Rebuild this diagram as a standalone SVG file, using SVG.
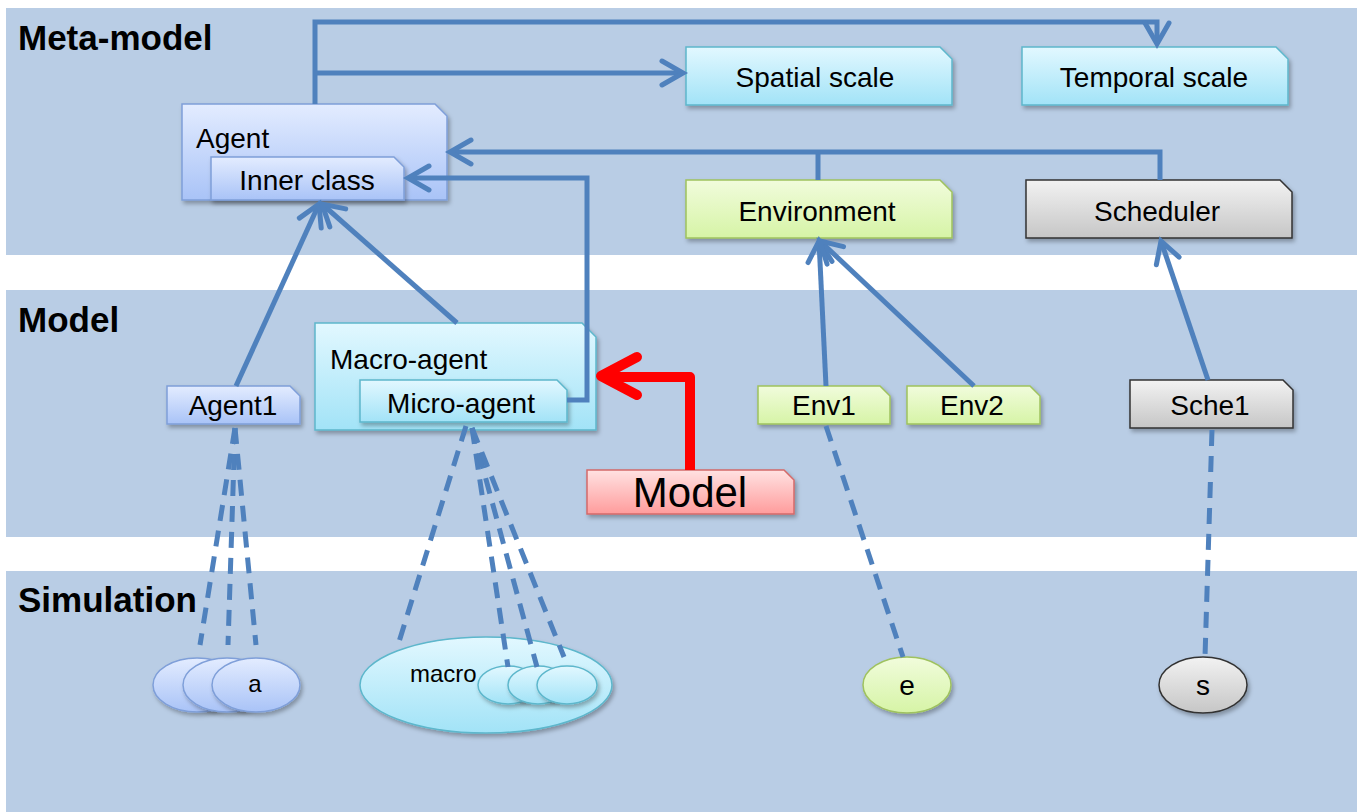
<svg xmlns="http://www.w3.org/2000/svg" width="1357" height="812" viewBox="0 0 1357 812">
<defs>
<linearGradient id="gBlue" x1="0" y1="0" x2="0" y2="1"><stop offset="0" stop-color="#e3ecff"/><stop offset="1" stop-color="#a9c3f7"/></linearGradient>
<linearGradient id="gCyan" x1="0" y1="0" x2="0" y2="1"><stop offset="0" stop-color="#e2f8ff"/><stop offset="1" stop-color="#a2e3f7"/></linearGradient>
<linearGradient id="gGreen" x1="0" y1="0" x2="0" y2="1"><stop offset="0" stop-color="#f1fcdc"/><stop offset="1" stop-color="#d6f4a6"/></linearGradient>
<linearGradient id="gGray" x1="0" y1="0" x2="0" y2="1"><stop offset="0" stop-color="#f2f2f2"/><stop offset="1" stop-color="#c6c6c6"/></linearGradient>
<linearGradient id="gRed" x1="0" y1="0" x2="0" y2="1"><stop offset="0" stop-color="#ffe2e2"/><stop offset="1" stop-color="#ff9c9c"/></linearGradient>
<filter id="sh" x="-10%" y="-10%" width="130%" height="140%"><feDropShadow dx="2" dy="3" stdDeviation="2" flood-color="#000" flood-opacity="0.3"/></filter>
<marker id="arr" markerUnits="userSpaceOnUse" viewBox="-4 -4 32 32" markerWidth="32" markerHeight="32" refX="22" refY="12" orient="auto">
<path d="M1,0 L22,12 L1,24" fill="none" stroke="#4f81bd" stroke-width="5" stroke-linecap="round"/>
</marker>
</defs>
<style>
.band{fill:#b9cde5}
.title{font-family:"Liberation Sans",Arial,sans-serif;font-weight:bold;font-size:35px;fill:#000}
.lbl{font-family:"Liberation Sans",Arial,sans-serif;font-size:28px;fill:#000;text-anchor:middle}
.lbs{font-family:"Liberation Sans",Arial,sans-serif;font-size:28px;fill:#000}
.sm{font-family:"Liberation Sans",Arial,sans-serif;font-size:24px;fill:#000}
.blue{fill:url(#gBlue);stroke:#7f9fd9;stroke-width:1.5;filter:url(#sh)}
.cyan{fill:url(#gCyan);stroke:#5db7cc;stroke-width:1.5;filter:url(#sh)}
.green{fill:url(#gGreen);stroke:#9fc25e;stroke-width:1.5;filter:url(#sh)}
.gray{fill:url(#gGray);stroke:#333;stroke-width:1.5;filter:url(#sh)}
.red{fill:url(#gRed);stroke:#d46a6a;stroke-width:1.5;filter:url(#sh)}
.conn{fill:none;stroke:#4f81bd;stroke-width:5;stroke-linejoin:miter}
.dash{fill:none;stroke:#4f81bd;stroke-width:5;stroke-dasharray:16 10}
</style>

<g id="bands">
<rect class="band" x="6" y="8" width="1351" height="247"/>
<rect class="band" x="6" y="290" width="1351" height="247"/>
<rect class="band" x="6" y="571" width="1351" height="241"/>
<text class="title" x="18" y="50">Meta-model</text>
<text class="title" x="18" y="332">Model</text>
<text class="title" x="18" y="612">Simulation</text>
</g>

<g id="agent">
<path class="blue" d="M182,104 H435 L447,116 V200 H182 Z"/>
<text class="lbs" x="196" y="148">Agent</text>
</g>
<g id="inner-class">
<path class="blue" d="M211,157 H394 L404,167 V200 H211 Z"/>
<text class="lbl" x="307" y="190">Inner class</text>
</g>
<g id="spatial-scale">
<path class="cyan" d="M686,47 H940 L952,59 V105 H686 Z"/>
<text class="lbl" x="815" y="87">Spatial scale</text>
</g>
<g id="temporal-scale">
<path class="cyan" d="M1022,47 H1276 L1288,59 V105 H1022 Z"/>
<text class="lbl" x="1154" y="87">Temporal scale</text>
</g>
<g id="environment">
<path class="green" d="M686,180 H940 L952,192 V238 H686 Z"/>
<text class="lbl" x="817" y="221">Environment</text>
</g>
<g id="scheduler">
<path class="gray" d="M1026,180 H1280 L1292,192 V238 H1026 Z"/>
<text class="lbl" x="1157" y="221">Scheduler</text>
</g>
<g id="macro-agent">
<path class="cyan" d="M315,323 H582 L596,337 V430 H315 Z"/>
<text class="lbs" x="330" y="369">Macro-agent</text>
</g>
<g id="micro-agent">
<path class="cyan" d="M360,380 H557 L567,390 V422 H360 Z"/>
<text class="lbl" x="461" y="413">Micro-agent</text>
</g>
<g id="agent1">
<path class="blue" d="M167,386 H290 L300,396 V424 H167 Z"/>
<text class="lbl" x="233" y="415">Agent1</text>
</g>
<g id="env1">
<path class="green" d="M758,386 H880 L890,396 V424 H758 Z"/>
<text class="lbl" x="824" y="415">Env1</text>
</g>
<g id="env2">
<path class="green" d="M907,386 H1030 L1040,396 V424 H907 Z"/>
<text class="lbl" x="972" y="415">Env2</text>
</g>
<g id="sche1">
<path class="gray" d="M1130,380 H1283 L1293,390 V428 H1130 Z"/>
<text class="lbl" x="1210" y="415">Sche1</text>
</g>
<g id="model">
<path class="red" d="M587,470 H784 L794,480 V514 H587 Z"/>
<text class="lbl" x="690" y="507" style="font-size:42px">Model</text>
</g>

<g id="instances-a">
<ellipse class="blue" cx="197" cy="685" rx="44" ry="27"/>
<ellipse class="blue" cx="227" cy="685" rx="44" ry="27"/>
<ellipse class="blue" cx="256" cy="685" rx="44" ry="27"/>
<text class="sm" x="255" y="692" text-anchor="middle">a</text>
</g>
<g id="instance-macro">
<ellipse class="cyan" cx="486" cy="685" rx="126" ry="48"/>
<text class="sm" x="410" y="682">macro</text>
<ellipse class="cyan" cx="508" cy="685" rx="30" ry="19"/>
<ellipse class="cyan" cx="538" cy="685" rx="30" ry="19"/>
<ellipse class="cyan" cx="567" cy="685" rx="30" ry="19"/>
</g>
<g id="instance-e">
<ellipse class="green" cx="907" cy="685" rx="44" ry="28"/>
<text class="lbl" x="907" y="695">e</text>
</g>
<g id="instance-s">
<ellipse class="gray" cx="1203" cy="685" rx="44" ry="28"/>
<text class="lbl" x="1203" y="695">s</text>
</g>

<g id="connectors">
<path class="conn" d="M315,104 V22 H1157 V44" marker-end="url(#arr)"/>
<path class="conn" d="M315,73 H683" marker-end="url(#arr)"/>
<path class="conn" d="M818,180 V152"/>
<path class="conn" d="M1160,180 V152 H450" marker-end="url(#arr)"/>
<path class="conn" d="M567,400 H587 V178 H408" marker-end="url(#arr)"/>
<path class="conn" d="M236,386 L319,204" marker-end="url(#arr)"/>
<path class="conn" d="M457,323 L322,204" marker-end="url(#arr)"/>
<path class="conn" d="M826,386 L819,241" marker-end="url(#arr)"/>
<path class="conn" d="M974,386 L820,241" marker-end="url(#arr)"/>
<path class="conn" d="M1208,380 L1161,241" marker-end="url(#arr)"/>
<path d="M690,470 V377 H604" fill="none" stroke="#ff0000" stroke-width="10" stroke-linejoin="round"/>
<path d="M637,357 L601,376 L637,395" fill="none" stroke="#ff0000" stroke-width="10" stroke-linecap="round" stroke-linejoin="round"/>
<path class="dash" d="M235,428 L200,645"/>
<path class="dash" d="M235,428 L228,645"/>
<path class="dash" d="M235,428 L256,645"/>
<path class="dash" d="M466,426 L398,645"/>
<path class="dash" d="M472,428 L508,667"/>
<path class="dash" d="M472,428 L537,667"/>
<path class="dash" d="M472,428 L564,657"/>
<path class="dash" d="M826,426 L903,657"/>
<path class="dash" d="M1212,430 L1205,657"/>
</g>
</svg>
